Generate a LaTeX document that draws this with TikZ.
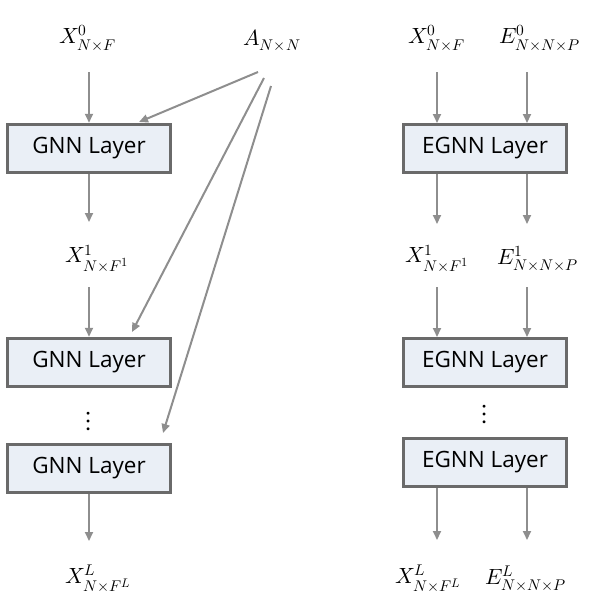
\documentclass[tikz,border=0pt]{standalone}
\usepackage{fontspec}
\usepackage{unicode-math}
\setmathfont{Latin Modern Math}
\DeclareMathSizes{22}{22}{15.5}{12.5}
\DeclareMathSizes{28}{28}{20}{16}
\newfontfamily\boxfont{Open Sans}
\usetikzlibrary{arrows.meta}
\definecolor{boxfill}{HTML}{EAEFF6}
\definecolor{boxline}{HTML}{6A6A6A}
\definecolor{arr}{HTML}{8E8E8E}
\begin{document}
\begin{tikzpicture}[x=1pt,y=-1pt,
  layer/.style={draw=boxline,line width=3.5pt,fill=boxfill,minimum width=163pt,minimum height=48pt,inner sep=0pt,font=\boxfont\fontsize{22.5}{26}\selectfont},
  lab/.style={inner sep=0pt,font=\fontsize{22}{26}\selectfont},
  flow/.style={draw=arr,line width=2pt,-{Triangle[length=9pt,width=8pt]}},
  vdots/.style={inner sep=0pt,font=\fontsize{28}{30}\selectfont}]
\useasboundingbox (0,0) rectangle (600,613);
% left column
\node[lab] (x0) at (88,38) {$X^{0}_{N\times F}$};
\node[lab] (a) at (272,40) {$A_{N\times N}$};
\node[layer] (g1) at (89,148.5) {GNN Layer};
\node[lab] (x1) at (97,258) {$X^{1}_{N\times F^{1}}$};
\node[layer] (g2) at (89,362.5) {GNN Layer};
\node[vdots] (d1) at (89,421) {$\boldsymbol{\vdots}$};
\node[layer] (g3) at (89,468.5) {GNN Layer};
\node[lab] (xl) at (98,578) {$X^{L}_{N\times F^{L}}$};
\draw[flow] (89,72) -- (g1.north);
\draw[flow] (g1.south) -- (89,222);
\draw[flow] (89,287) -- (g2.north);
\draw[flow] (g3.south) -- (89,541);
\coordinate (a1) at (258,72);
\coordinate (a2) at (264,78);
\coordinate (a3) at (271,86);
\coordinate (t1) at (139,122);
\coordinate (t2) at (132,332);
\coordinate (t3) at (163,433);
\draw[flow] (a1) -- (t1);
\draw[flow] (a2) -- (t2);
\draw[flow] (a3) -- (t3);
% right column
\node[lab] (rx0) at (437,38) {$X^{0}_{N\times F}$};
\node[lab] (re0) at (540,38) {$E^{0}_{N\times N\times P}$};
\node[layer] (e1) at (485,148.5) {EGNN Layer};
\node[lab] (rx1) at (437,258) {$X^{1}_{N\times F^{1}}$};
\node[lab] (re1) at (538,258) {$E^{1}_{N\times N\times P}$};
\node[layer] (e2) at (485,362.5) {EGNN Layer};
\node[vdots] (d2) at (485,414) {$\boldsymbol{\vdots}$};
\node[layer] (e3) at (485,462.5) {EGNN Layer};
\node[lab] (rxl) at (428,578) {$X^{L}_{N\times F^{L}}$};
\node[lab] (rel) at (526,578) {$E^{L}_{N\times N\times P}$};
\draw[flow] (437,72) -- (437,123);
\draw[flow] (527,72) -- (527,123);
\draw[flow] (437,174) -- (437,224);
\draw[flow] (527,174) -- (527,224);
\draw[flow] (437,287) -- (437,337);
\draw[flow] (527,287) -- (527,337);
\draw[flow] (437,488) -- (437,540);
\draw[flow] (527,488) -- (527,540);
\end{tikzpicture}
\end{document}
